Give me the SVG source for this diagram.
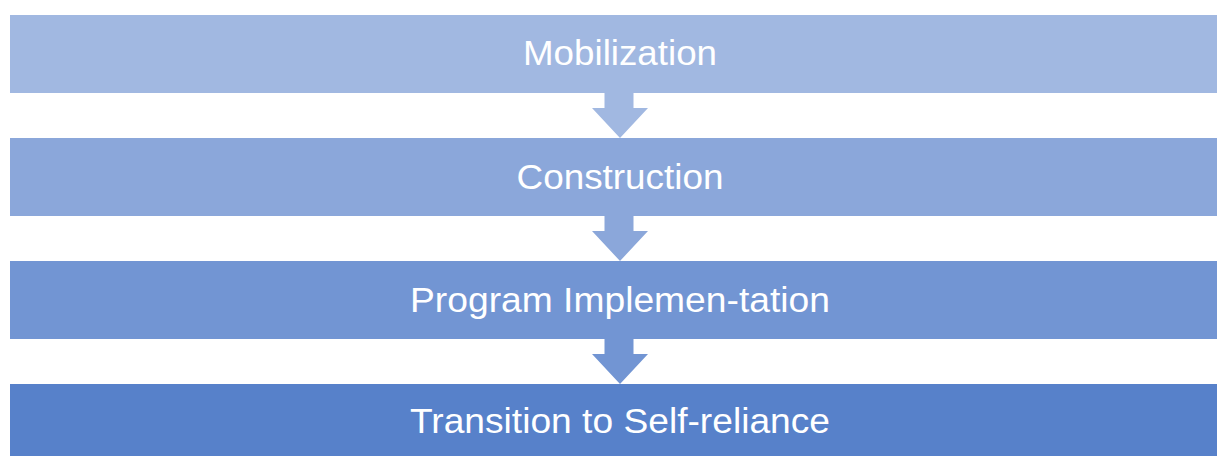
<svg xmlns="http://www.w3.org/2000/svg" width="1217" height="456" viewBox="0 0 1217 456">
  <style>
    .label { font-family: "Liberation Sans", Arial, sans-serif; font-size: 35px; fill: #FFFFFF; text-anchor: middle; }
    .s1 { fill: #A1B8E1; }
    .s2 { fill: #8BA7DA; }
    .s3 { fill: #7295D3; }
    .s4 { fill: #5781CA; }
  </style>
  <rect width="1217" height="456" fill="#FFFFFF"/>

  <!-- process steps -->
  <g id="step-mobilization">
    <rect class="s1" x="10" y="15" width="1220" height="78"/>
    <text class="label" x="620" y="64.5" textLength="194" lengthAdjust="spacingAndGlyphs">Mobilization</text>
  </g>
  <g id="step-construction">
    <rect class="s2" x="10" y="138" width="1220" height="78"/>
    <text class="label" x="620" y="188.5" textLength="207" lengthAdjust="spacingAndGlyphs">Construction</text>
  </g>
  <g id="step-program">
    <rect class="s3" x="10" y="261" width="1220" height="78"/>
    <text class="label" x="620" y="311.5" textLength="420" lengthAdjust="spacingAndGlyphs">Program Implemen-tation</text>
  </g>
  <g id="step-transition">
    <rect class="s4" x="10" y="384" width="1220" height="78"/>
    <text class="label" x="620" y="433" textLength="420" lengthAdjust="spacingAndGlyphs">Transition to Self-reliance</text>
  </g>

  <!-- down arrows between steps -->
  <g id="connectors">
    <polygon class="s1" points="604.5,90 633.5,90 633.5,108 648,108 620,138 592,108 604.5,108"/>
    <polygon class="s2" points="604.5,213 633.5,213 633.5,231 648,231 620,261 592,231 604.5,231"/>
    <polygon class="s3" points="604.5,336 633.5,336 633.5,354 648,354 620,384 592,354 604.5,354"/>
  </g>
</svg>
